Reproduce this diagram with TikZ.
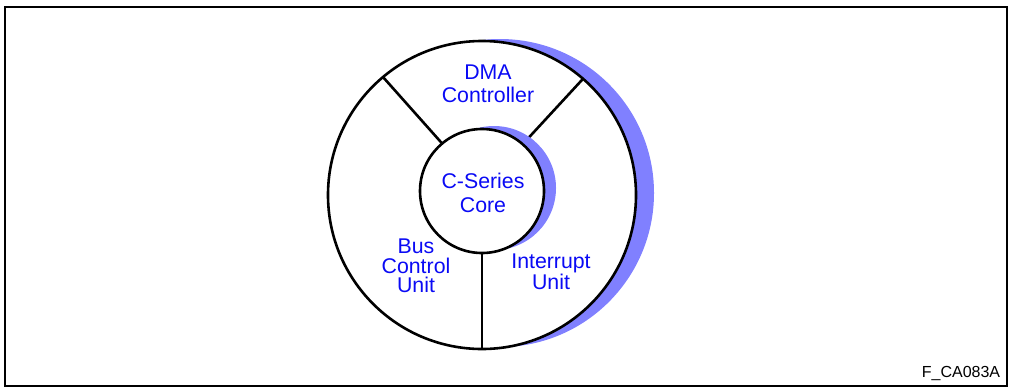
\documentclass[tikz,border=0pt]{standalone}
\usepackage{fontspec}
\setmainfont{Liberation Sans}
\definecolor{shadowblue}{RGB}{128,128,255}
\definecolor{labelblue}{RGB}{10,10,245}
\begin{document}
\begin{tikzpicture}[x=1pt,y=-1pt,
  ring/.style={circle,draw=black,line width=2.6pt,fill=white,inner sep=0pt,outer sep=0pt},
  shade/.style={circle,fill=shadowblue,draw=none,inner sep=0pt,outer sep=0pt},
  divider/.style={line width=2.6pt},
  lbl/.style={text=labelblue,align=center,font=\fontsize{21.3}{23.5}\selectfont},
  tightlbl/.style={lbl,font=\fontsize{21.3}{19.5}\selectfont},
  frame/.style={line width=2pt}]
\useasboundingbox (0,0) rectangle (1011,389);
\draw[frame] (5,7) rectangle (1007,386);
% outer ring with shadow
\node[shade,minimum size=308pt] (outershadow) at (500,193) {};
\node[ring,minimum size=308pt] (outer) at (482,195) {};
% inner ring reference for anchors
\path (482,191) node[circle,inner sep=0pt,outer sep=0pt,minimum size=124pt] (innerref) {};
\draw[divider] (innerref.130) -- (outer.130);
\draw[divider] (innerref.49) -- (outer.49);
\draw[divider] (innerref.270) -- (outer.270);
\node[shade,minimum size=124pt] (innershadow) at (494,188) {};
\node[ring,minimum size=124pt] (inner) at (482,191) {};
% labels
\node[lbl] (dma) at (488,84) {DMA\\Controller};
\node[lbl] (core) at (483,193) {C-Series\\Core};
\node[tightlbl] (bus) at (416,266) {Bus\\Control\\Unit};
\node[tightlbl] (intr) at (551,272) {Interrupt\\Unit};
\node[font=\fontsize{16}{19}\selectfont] (fig) at (961,373) {F\_CA083A};
\end{tikzpicture}
\end{document}
